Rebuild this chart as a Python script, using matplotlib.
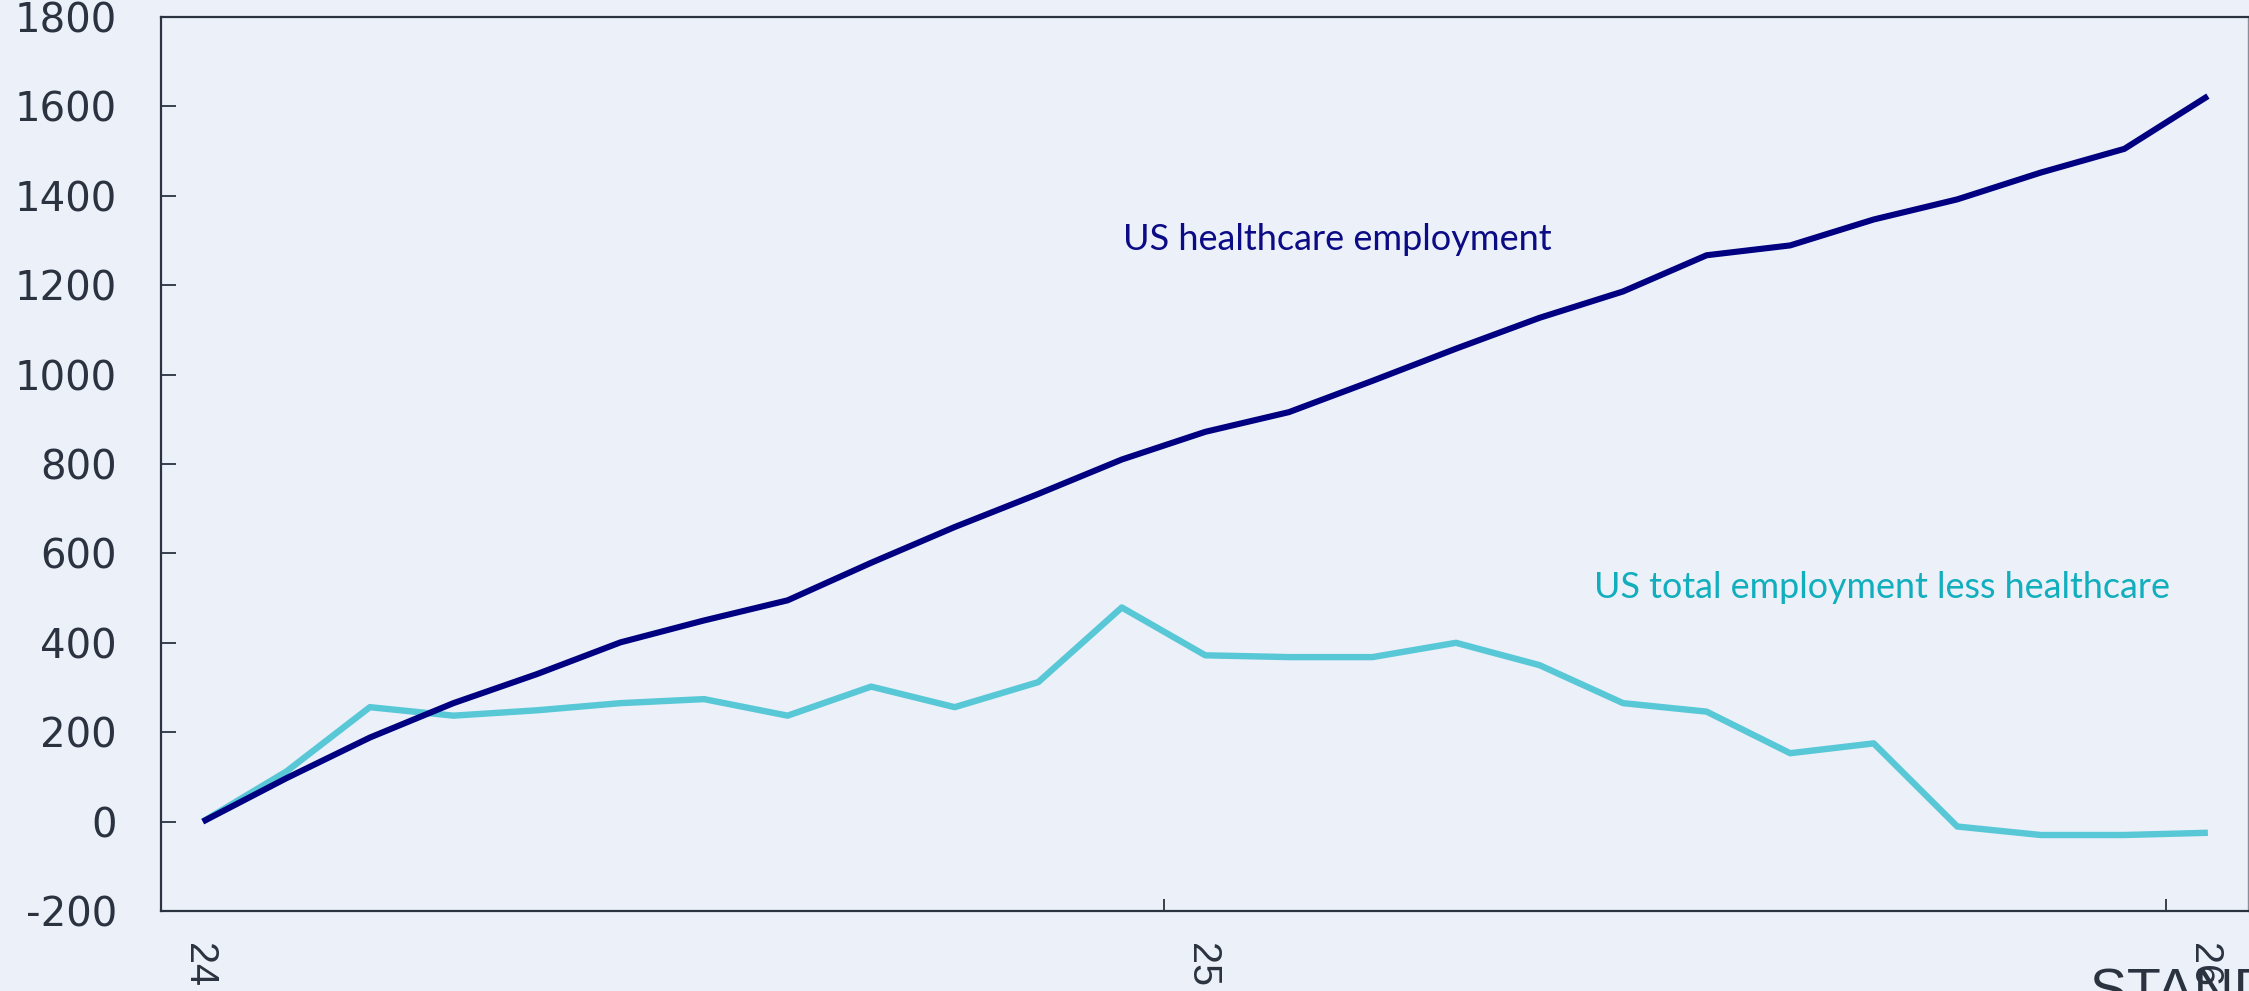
import matplotlib
matplotlib.use("Agg")
import matplotlib.pyplot as plt
import numpy as np
from matplotlib.transforms import ScaledTranslation

# ---- data (monthly change since start, thousands) ----
healthcare = [0, 97, 188, 265, 330, 401, 450, 495, 579, 659, 733, 810, 872,
              916, 986, 1058, 1127, 1186, 1267, 1289, 1347, 1392, 1452, 1505, 1623]
total_less_healthcare = [0, 112, 256, 237, 249, 265, 274, 237, 302, 256, 312, 479,
                         372, 368, 368, 400, 350, 265, 246, 153, 175, -11, -30, -30, -25]
x_tick_pos = [0, 12, 24]
x_tick_labels = ["24", "25", "26"]
y_ticks = [-200, 0, 200, 400, 600, 800, 1000, 1200, 1400, 1600, 1800]
y_tick_labels = ["-200", "0", "200", "400", "600", "800", "1000", "1200", "1400", "1600", "1800"]
label_healthcare = "US healthcare employment"
label_total = "US total employment less healthcare"
source_text = "STANDARD CHARTERED"

BG = "#ECF0F9"
DARK = "#2B3340"
NAVY = "#000080"
CYAN = "#58C8D7"

W, H = 2249, 991
fig = plt.figure(figsize=(W / 100, H / 100), dpi=100, facecolor=BG)
ax = fig.add_axes([161 / W, 1 - 911 / H, (2248 - 161) / W, (911 - 17) / H])
ax.set_facecolor(BG)

x = np.arange(len(healthcare)) + 0.5
ax.plot(x, total_less_healthcare, color=CYAN, lw=4.6, solid_capstyle="butt", zorder=2)
ax.plot(x, healthcare, color=NAVY, lw=4.4, solid_capstyle="butt", zorder=3)

ax.set_xlim(0.0, 24.98)
ax.set_ylim(-200, 1800)
ax.set_yticks(y_ticks)
ax.set_yticklabels(y_tick_labels)
ax.set_xticks(x_tick_pos)
ax.set_xticklabels(x_tick_labels, rotation=-90)

for side in ["left", "bottom", "top"]:
    ax.spines[side].set_color(DARK)
    ax.spines[side].set_linewidth(1.6)
ax.spines["right"].set_color("#8A8F99")
ax.spines["right"].set_linewidth(1.0)

ax.tick_params(axis="y", direction="in", length=11, width=1.3, pad=31.7,
               colors=DARK, labelsize=29)
ax.tick_params(axis="x", direction="in", length=8.5, width=1.3, pad=23,
               colors=DARK, labelsize=28.5)
for lbl in ax.get_yticklabels():
    lbl.set_fontfamily("DejaVu Sans")
for lbl in ax.get_xticklabels():
    lbl.set_fontfamily("Liberation Sans")
    lbl.set_transform(lbl.get_transform() + ScaledTranslation(0.38, 0, fig.dpi_scale_trans))

ax.text(11.52, 1279, label_healthcare, color="#0B0B85", fontsize=26, family="Lato",
        ha="left", va="baseline")
ax.text(17.15, 500, label_total, color="#11AEBD", fontsize=25.8, family="Lato",
        ha="left", va="baseline")

fig.text(2090 / W, 1 - 967 / H, source_text, ha="left", va="top", fontsize=40,
         color=DARK, family="Liberation Sans")

fig.savefig("out.png", dpi=100, facecolor=BG)
